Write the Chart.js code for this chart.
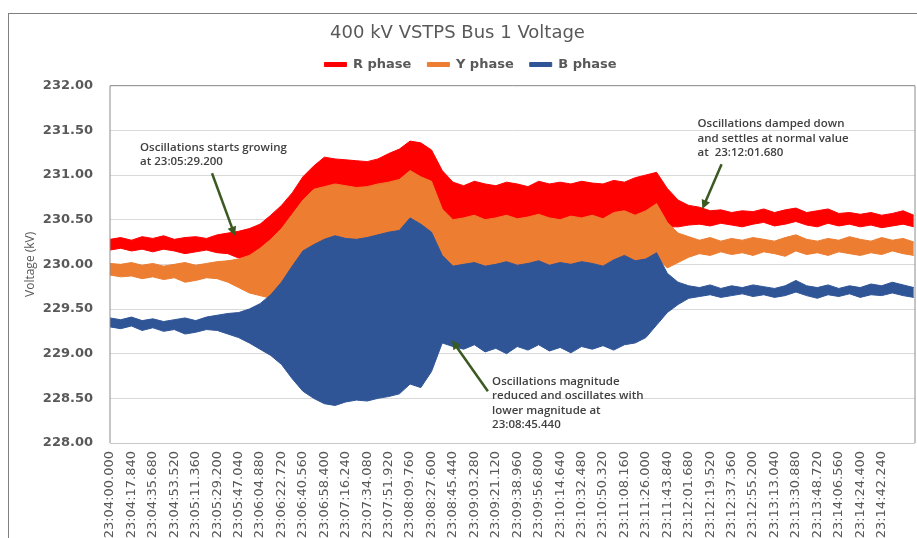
<!DOCTYPE html>
<html>
<head>
<meta charset="utf-8">
<script src="https://cdn.jsdelivr.net/npm/chart.js@4.4.1/dist/chart.umd.min.js"></script>
<style>
html, body { margin: 0; padding: 0; background: #fff; overflow: hidden; }
#frame { position: absolute; left: 8px; top: 13px; width: 1200px; height: 1200px; border: 1px solid #7f7f7f; }
#wrap { position: absolute; left: 0; top: 0; width: 917px; height: 560px; }
</style>
</head>
<body>
<div id="frame"></div>
<div id="wrap"><canvas id="chart"></canvas></div>
<script>
// time axis: labels every 17.84 s, envelope samples every half label step
const TICK_STEP = 17.84;
const SAMPLE_STEP = 8.92;

const tickLabels = [
  '23:04:00.000', '23:04:17.840', '23:04:35.680', '23:04:53.520', '23:05:11.360',
  '23:05:29.200', '23:05:47.040', '23:06:04.880', '23:06:22.720', '23:06:40.560',
  '23:06:58.400', '23:07:16.240', '23:07:34.080', '23:07:51.920', '23:08:09.760',
  '23:08:27.600', '23:08:45.440', '23:09:03.280', '23:09:21.120', '23:09:38.960',
  '23:09:56.800', '23:10:14.640', '23:10:32.480', '23:10:50.320', '23:11:08.160',
  '23:11:26.000', '23:11:43.840', '23:12:01.680', '23:12:19.520', '23:12:37.360',
  '23:12:55.200', '23:13:13.040', '23:13:30.880', '23:13:48.720', '23:14:06.560',
  '23:14:24.400', '23:14:42.240'
];

// max / min envelope of each phase (kV)
const rUpper = [
  230.28, 230.30, 230.27, 230.31, 230.29, 230.32, 230.28, 230.30, 230.31, 230.29,
  230.33, 230.35, 230.37, 230.40, 230.45, 230.55, 230.66, 230.80, 230.98, 231.10,
  231.20, 231.18, 231.17, 231.16, 231.15, 231.18, 231.24, 231.29, 231.38, 231.36,
  231.28, 231.05, 230.92, 230.88, 230.93, 230.90, 230.88, 230.92, 230.90, 230.87,
  230.93, 230.90, 230.92, 230.90, 230.93, 230.91, 230.90, 230.94, 230.92, 230.97,
  231.00, 231.03, 230.85, 230.72, 230.66, 230.64, 230.60, 230.61, 230.58, 230.60,
  230.59, 230.62, 230.58, 230.61, 230.63, 230.58, 230.60, 230.62, 230.57, 230.58,
  230.56, 230.58, 230.55, 230.57, 230.60, 230.55
];
const rLower = [
  230.16, 230.18, 230.15, 230.17, 230.14, 230.17, 230.15, 230.12, 230.14, 230.16,
  230.13, 230.12, 230.07, 230.07, 230.12, 230.22, 230.34, 230.50, 230.66, 230.78,
  230.82, 230.84, 230.82, 230.80, 230.82, 230.84, 230.86, 230.88, 230.98, 230.92,
  230.86, 230.56, 230.45, 230.47, 230.50, 230.45, 230.47, 230.50, 230.46, 230.48,
  230.51, 230.47, 230.45, 230.49, 230.47, 230.50, 230.46, 230.53, 230.55, 230.50,
  230.55, 230.63, 230.42, 230.42, 230.44, 230.45, 230.43, 230.46, 230.44, 230.42,
  230.45, 230.47, 230.43, 230.45, 230.48, 230.44, 230.42, 230.46, 230.43, 230.45,
  230.42, 230.44, 230.41, 230.43, 230.45, 230.42
];
const yUpper = [
  230.01, 230.00, 230.02, 229.99, 230.01, 229.98, 230.00, 230.02, 229.99, 230.01,
  230.03, 230.04, 230.06, 230.10, 230.18, 230.28, 230.40, 230.56, 230.72, 230.84,
  230.87, 230.90, 230.88, 230.86, 230.87, 230.90, 230.92, 230.95, 231.05, 230.98,
  230.93, 230.62, 230.50, 230.52, 230.55, 230.50, 230.52, 230.55, 230.51, 230.53,
  230.56, 230.52, 230.50, 230.54, 230.52, 230.55, 230.51, 230.58, 230.60, 230.55,
  230.60, 230.68, 230.47, 230.35, 230.31, 230.27, 230.30, 230.26, 230.29, 230.27,
  230.30, 230.28, 230.26, 230.30, 230.33, 230.28, 230.26, 230.29, 230.27, 230.31,
  230.28, 230.26, 230.30, 230.27, 230.29, 230.25
];
const yLower = [
  229.88, 229.86, 229.87, 229.84, 229.86, 229.83, 229.85, 229.80, 229.82, 229.85,
  229.84, 229.80, 229.74, 229.68, 229.65, 229.62, 229.71, 229.93, 230.10, 230.17,
  230.23, 230.27, 230.24, 230.23, 230.25, 230.28, 230.31, 230.33, 230.47, 230.40,
  230.31, 230.05, 229.93, 229.95, 229.97, 229.93, 229.95, 229.98, 229.94, 229.96,
  229.99, 229.94, 229.97, 229.95, 229.98, 229.96, 229.93, 230.00, 230.05, 229.99,
  230.01, 230.08, 229.96, 230.02, 230.08, 230.12, 230.10, 230.14, 230.11, 230.13,
  230.10, 230.14, 230.12, 230.09, 230.15, 230.11, 230.13, 230.10, 230.14, 230.12,
  230.10, 230.13, 230.11, 230.15, 230.12, 230.10
];
const bUpper = [
  229.40, 229.38, 229.41, 229.37, 229.39, 229.36, 229.38, 229.40, 229.37, 229.41,
  229.43, 229.45, 229.46, 229.50, 229.56, 229.66, 229.80, 229.98, 230.15, 230.22,
  230.28, 230.32, 230.29, 230.28, 230.30, 230.33, 230.36, 230.38, 230.52, 230.45,
  230.36, 230.10, 229.98, 230.00, 230.02, 229.98, 230.00, 230.03, 229.99, 230.01,
  230.04, 229.99, 230.02, 230.00, 230.03, 230.01, 229.98, 230.05, 230.10, 230.04,
  230.06, 230.13, 229.90, 229.80, 229.76, 229.74, 229.77, 229.73, 229.76, 229.74,
  229.77, 229.75, 229.73, 229.76, 229.82, 229.76, 229.74, 229.77, 229.73, 229.76,
  229.74, 229.78, 229.76, 229.80, 229.77, 229.74
];
const bLower = [
  229.30, 229.28, 229.31, 229.26, 229.29, 229.25, 229.27, 229.22, 229.24, 229.27,
  229.26, 229.22, 229.18, 229.12, 229.05, 228.98, 228.88, 228.72, 228.58, 228.50,
  228.44, 228.42, 228.46, 228.48, 228.47, 228.50, 228.52, 228.55, 228.66, 228.62,
  228.80, 229.12, 229.08, 229.05, 229.10, 229.02, 229.06, 229.00, 229.08, 229.04,
  229.10, 229.03, 229.07, 229.01, 229.08, 229.05, 229.09, 229.04, 229.10, 229.12,
  229.18, 229.32, 229.46, 229.55, 229.62, 229.64, 229.66, 229.63, 229.65, 229.67,
  229.64, 229.66, 229.63, 229.65, 229.69, 229.65, 229.62, 229.66, 229.64, 229.67,
  229.63, 229.66, 229.65, 229.68, 229.65, 229.63
];

const notes = [
  { lines: ['Oscillations starts growing', 'at 23:05:29.200'], at: [25, 231.31], from: [84.9, 231.02], to: [104, 230.32] },
  { lines: ['Oscillations magnitude', 'reduced and oscillates with', 'lower magnitude at', '23:08:45.440'], at: [318, 228.69], from: [314.5, 228.58], to: [284.6, 229.15] },
  { lines: ['Oscillations damped down', 'and settles at normal value', 'at  23:12:01.680'], at: [489, 231.57], from: [509, 231.12], to: [493, 230.62] }
];

const RED = '#ff0000', ORANGE = '#ed7d31', BLUE = '#2f5597';

function pts(arr) {
  return arr.map((v, i) => ({ x: i * SAMPLE_STEP, y: v }));
}

function band(label, upper, lower, color, order) {
  return [
    { label, data: pts(upper), borderColor: color, backgroundColor: color, fill: '+1', order },
    { label: '', data: pts(lower), borderColor: color, backgroundColor: color, fill: false, order }
  ];
}

// legend sits a little right of centre in the original
const legendNudge = {
  id: 'legendNudge',
  afterLayout(chart) {
    chart.legend.left += 13;
    chart.legend.right += 13;
  }
};

const plotBorder = {
  id: 'plotBorder',
  afterDatasetsDraw(chart) {
    const { ctx, chartArea: a } = chart;
    ctx.save();
    ctx.strokeStyle = '#8c8c8c';
    ctx.lineWidth = 1;
    ctx.beginPath();
    ctx.moveTo(a.left, a.bottom);
    ctx.lineTo(a.left, a.top);
    ctx.lineTo(a.right, a.top);
    ctx.lineTo(a.right, a.bottom);
    ctx.stroke();
    ctx.strokeStyle = '#c8c8c8';
    ctx.beginPath();
    ctx.moveTo(a.left, a.bottom + 0.5);
    ctx.lineTo(a.right, a.bottom + 0.5);
    ctx.stroke();
    ctx.restore();
  }
};

const callouts = {
  id: 'callouts',
  afterDraw(chart) {
    const { ctx, scales: { x, y } } = chart;
    ctx.save();
    notes.forEach(n => {
      ctx.font = '600 11.5px "Open Sans"';
      ctx.fillStyle = '#404040';
      ctx.textBaseline = 'middle';
      const tx = x.getPixelForValue(n.at[0]);
      const ty = y.getPixelForValue(n.at[1]);
      n.lines.forEach((l, i) => ctx.fillText(l, tx, ty + i * 14.5));

      const x1 = x.getPixelForValue(n.from[0]), y1 = y.getPixelForValue(n.from[1]);
      const x2 = x.getPixelForValue(n.to[0]), y2 = y.getPixelForValue(n.to[1]);
      const ang = Math.atan2(y2 - y1, x2 - x1);
      ctx.strokeStyle = '#3b5a21';
      ctx.fillStyle = '#3b5a21';
      ctx.lineWidth = 2.5;
      ctx.beginPath();
      ctx.moveTo(x1, y1);
      ctx.lineTo(x2 - 6 * Math.cos(ang), y2 - 6 * Math.sin(ang));
      ctx.stroke();
      ctx.beginPath();
      ctx.moveTo(x2, y2);
      ctx.lineTo(x2 - 9 * Math.cos(ang) + 4.5 * Math.sin(ang), y2 - 9 * Math.sin(ang) - 4.5 * Math.cos(ang));
      ctx.lineTo(x2 - 9 * Math.cos(ang) - 4.5 * Math.sin(ang), y2 - 9 * Math.sin(ang) + 4.5 * Math.cos(ang));
      ctx.closePath();
      ctx.fill();
    });
    ctx.restore();
  }
};

Chart.defaults.font.family = '"DejaVu Sans"';
Chart.defaults.color = '#595959';

new Chart(document.getElementById('chart'), {
  type: 'line',
  data: {
    datasets: [
      ...band('R phase', rUpper, rLower, RED, 3),
      ...band('Y phase', yUpper, yLower, ORANGE, 2),
      ...band('B phase', bUpper, bLower, BLUE, 1)
    ]
  },
  options: {
    responsive: true,
    maintainAspectRatio: false,
    animation: false,
    layout: { padding: { left: 0, right: 2, top: 0, bottom: 0 } },
    elements: {
      point: { radius: 0 },
      line: { borderWidth: 1, tension: 0 }
    },
    plugins: {
      tooltip: { enabled: false },
      title: {
        display: true,
        text: '400 kV VSTPS Bus 1 Voltage',
        color: '#595959',
        font: { size: 18, weight: 'normal', lineHeight: 1 },
        padding: { top: 24, bottom: 0 }
      },
      // thin spacer between legend and plot
      subtitle: {
        display: true,
        text: ' ',
        font: { size: 1 },
        padding: { top: 3.5, bottom: 0 }
      },
      legend: {
        position: 'top',
        weight: 1800,
        labels: {
          boxWidth: 22,
          boxHeight: 4,
          padding: 16,
          color: '#595959',
          font: { size: 13, weight: 'bold' },
          filter: item => item.text !== '',
          sort: (a, b) => a.datasetIndex - b.datasetIndex
        }
      }
    },
    scales: {
      x: {
        type: 'linear',
        min: 0,
        max: 670,
        grid: { display: false, drawTicks: false },
        border: { display: false },
        afterBuildTicks: s => { s.ticks = tickLabels.map((t, i) => ({ value: i * TICK_STEP })); },
        afterFit: s => { s.height = 117; },
        ticks: {
          autoSkip: false,
          minRotation: 90,
          maxRotation: 90,
          padding: 8,
          color: '#595959',
          font: { size: 13 },
          callback: (v, i) => tickLabels[i]
        }
      },
      y: {
        min: 228,
        max: 232,
        afterFit: s => { s.width = 110; },
        grid: { color: '#d9d9d9', drawTicks: false },
        border: { display: false },
        ticks: {
          stepSize: 0.5,
          padding: 17,
          color: '#595959',
          font: { size: 13, weight: 'bold' },
          callback: v => v.toFixed(2)
        },
        title: {
          display: true,
          text: 'Voltage (kV)',
          color: '#595959',
          font: { family: '"Open Sans"', size: 12 },
          padding: { top: 23, bottom: 0 }
        }
      }
    }
  },
  plugins: [legendNudge, plotBorder, callouts]
});
</script>
</body>
</html>
